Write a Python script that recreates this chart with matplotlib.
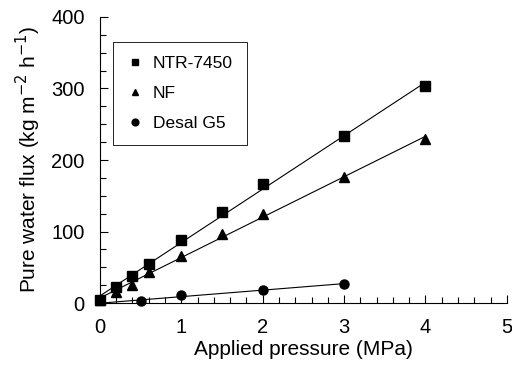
import matplotlib
matplotlib.use('Agg')
import matplotlib.pyplot as plt
import numpy as np
from matplotlib.ticker import MultipleLocator

plt.rcParams['font.family'] = ['Liberation Sans', 'DejaVu Sans']

# data
p_ntr = [0, 0.2, 0.4, 0.6, 1.0, 1.5, 2.0, 3.0, 4.0]
flux_ntr = [5, 22, 38, 55, 88, 127, 167, 233, 303]
p_nf = [0, 0.2, 0.4, 0.6, 1.0, 1.5, 2.0, 3.0, 4.0]
flux_nf = [5, 16, 25, 43, 66, 97, 125, 176, 229]
p_desal = [0.5, 1.0, 2.0, 3.0]
flux_desal = [3, 11, 18, 27]

series = [
    ('NTR-7450', p_ntr, flux_ntr, 's'),
    ('NF', p_nf, flux_nf, '^'),
    ('Desal G5', p_desal, flux_desal, 'o'),
]

fig = plt.figure(figsize=(5.12, 3.67), dpi=100)
ax = fig.add_axes([0.195, 0.174, 0.795, 0.78])

for name, x, y, m in series:
    # linear fit line, drawn from 0 to the last point
    k, b = np.polyfit(x, y, 1)
    xx = np.array([0, max(x)])
    ax.plot(xx, k * xx + b, color='black', lw=0.8, clip_on=False)
    ax.plot(x, y, m, color='black', ms=6.5, label=name, clip_on=False, zorder=3)

ax.set_xlim(0, 5)
ax.set_ylim(0, 400)
ax.xaxis.set_major_locator(MultipleLocator(1))
ax.xaxis.set_minor_locator(MultipleLocator(0.2))
ax.yaxis.set_major_locator(MultipleLocator(100))
ax.yaxis.set_minor_locator(MultipleLocator(25))
ax.tick_params(which='both', direction='in', labelsize=14.5, width=0.8, pad=11)
ax.tick_params(which='major', length=6)
ax.tick_params(which='minor', length=4)
ax.spines['top'].set_visible(False)
ax.spines['right'].set_visible(False)

ax.set_xlabel('Applied pressure (MPa)', fontsize=15, labelpad=2)
ax.set_ylabel('Pure water flux (kg m$^{-2}$ h$^{-1}$)', fontsize=15, labelpad=6)

leg = ax.legend(loc='upper left', bbox_to_anchor=(0.032, 0.913), fontsize=12.5,
                markerscale=0.75, handlelength=1.0, handletextpad=0.5,
                labelspacing=0.85, borderaxespad=0,
                fancybox=False, edgecolor='black', framealpha=1,
                borderpad=0.8)
leg.get_frame().set_linewidth(0.6)

fig.savefig('out.png', dpi=100)
